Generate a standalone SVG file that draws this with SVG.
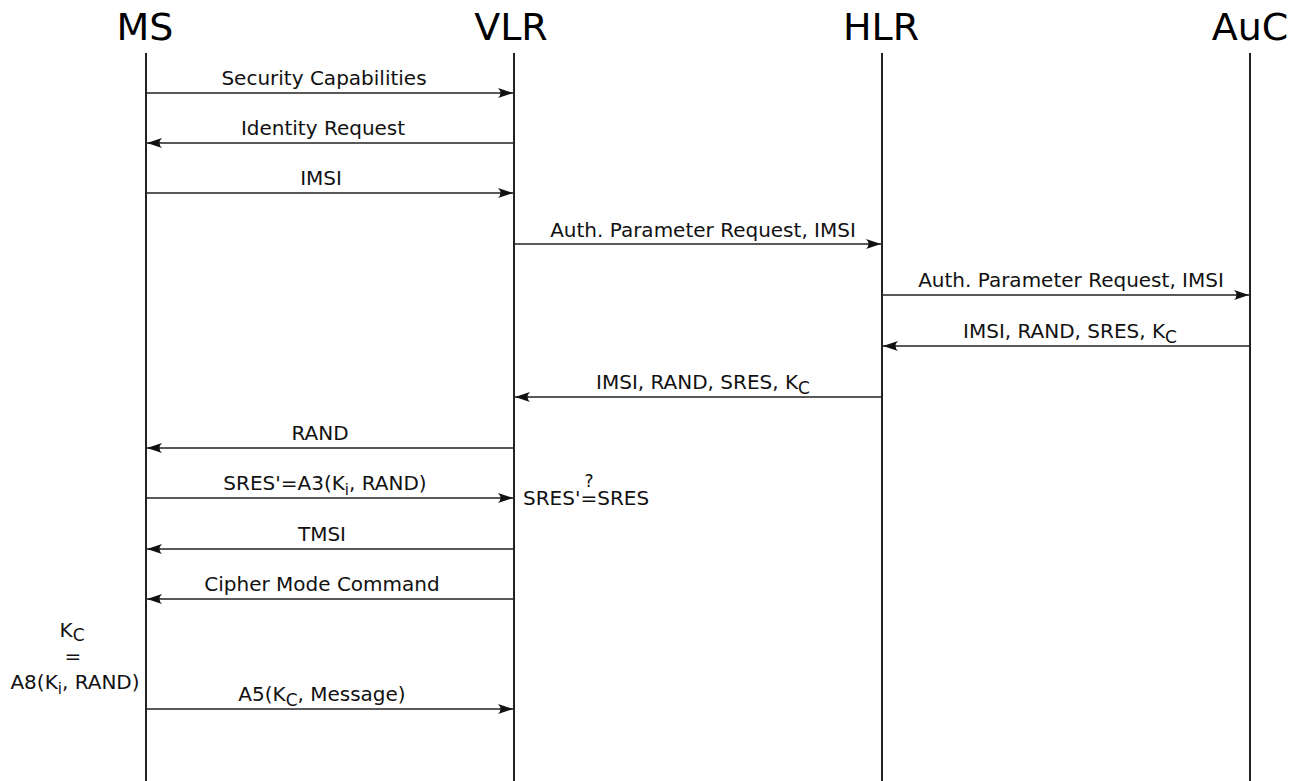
<svg xmlns="http://www.w3.org/2000/svg" width="1308" height="781" viewBox="0 0 1308 781">
<style>
.title{font-family:"DejaVu Sans",sans-serif;font-size:38px;fill:#000;text-anchor:middle}
.lbl{font-family:"DejaVu Sans",sans-serif;font-size:20px;fill:#111;text-anchor:middle}
.life{stroke:#222;stroke-width:2;fill:none}
.msg{stroke:#222;stroke-width:1.6;fill:none;marker-end:url(#ah)}
</style>
<defs>
<marker id="ah" viewBox="-16 -6 17 12" refX="0" refY="0" markerWidth="17" markerHeight="12" markerUnits="userSpaceOnUse" orient="auto">
<path d="M0,0 L-15,-5 Q-10,0 -15,5 Z" fill="#111"/>
</marker>
</defs>
<rect width="1308" height="781" fill="#fff"/>
<g id="ms">
<text class="title" x="145" y="40">MS</text>
<line class="life" x1="146" y1="53" x2="146" y2="781"/>
</g>
<g id="vlr">
<text class="title" x="511" y="40">VLR</text>
<line class="life" x1="514" y1="53" x2="514" y2="781"/>
</g>
<g id="hlr">
<text class="title" x="881" y="40">HLR</text>
<line class="life" x1="882" y1="53" x2="882" y2="781"/>
</g>
<g id="auc">
<text class="title" x="1250" y="40">AuC</text>
<line class="life" x1="1250" y1="53" x2="1250" y2="781"/>
</g>
<g id="connectors">
<line class="msg" x1="146" y1="93" x2="513" y2="93"/>
<line class="msg" x1="514" y1="143" x2="147" y2="143"/>
<line class="msg" x1="146" y1="193" x2="513" y2="193"/>
<line class="msg" x1="514" y1="244" x2="881" y2="244"/>
<line class="msg" x1="882" y1="295" x2="1249" y2="295"/>
<line class="msg" x1="1250" y1="346" x2="883" y2="346"/>
<line class="msg" x1="882" y1="397" x2="515" y2="397"/>
<line class="msg" x1="514" y1="448" x2="147" y2="448"/>
<line class="msg" x1="146" y1="498" x2="513" y2="498"/>
<line class="msg" x1="514" y1="549" x2="147" y2="549"/>
<line class="msg" x1="514" y1="599" x2="147" y2="599"/>
<line class="msg" x1="146" y1="709" x2="513" y2="709"/>
</g>
<g id="labels">
<text class="lbl" x="324" y="85">Security Capabilities</text>
<text class="lbl" x="323" y="135">Identity Request</text>
<text class="lbl" x="321" y="185">IMSI</text>
<text class="lbl" x="703" y="237">Auth. Parameter Request, IMSI</text>
<text class="lbl" x="1071" y="287">Auth. Parameter Request, IMSI</text>
<text class="lbl" x="1070" y="338">IMSI, RAND, SRES, K<tspan dy="5" font-size="17">C</tspan></text>
<text class="lbl" x="703" y="389">IMSI, RAND, SRES, K<tspan dy="5" font-size="17">C</tspan></text>
<text class="lbl" x="320" y="440">RAND</text>
<text class="lbl" x="325" y="490">SRES'=A3(K<tspan dy="5" font-size="15">i</tspan><tspan dy="-5">, RAND)</tspan></text>
<text class="lbl" x="322" y="541">TMSI</text>
<text class="lbl" x="322" y="591">Cipher Mode Command</text>
<text class="lbl" x="322" y="701">A5(K<tspan dy="5" font-size="17">C</tspan><tspan dy="-5">, Message)</tspan></text>
</g>
<g id="verify">
<text class="lbl" x="523" y="505" style="text-anchor:start">SRES'=SRES</text>
<text class="lbl" x="589" y="487" style="font-size:17px">?</text>
</g>
<g id="kc-note">
<text class="lbl" x="72" y="637">K<tspan dy="4" font-size="17">C</tspan></text>
<text class="lbl" x="73" y="663">=</text>
<text class="lbl" x="75" y="689">A8(K<tspan dy="5" font-size="15">i</tspan><tspan dy="-5">, RAND)</tspan></text>
</g>
</svg>
